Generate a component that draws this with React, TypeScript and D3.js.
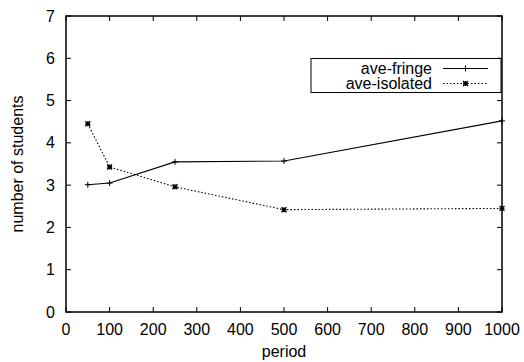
import { useEffect, useRef } from "react";
import * as d3 from "d3";

const periods = [50, 100, 250, 500, 1000];
const aveFringe = [3.01, 3.05, 3.55, 3.57, 4.52];
const aveIsolated = [4.45, 3.43, 2.96, 2.42, 2.45];
const xTicks = [0, 100, 200, 300, 400, 500, 600, 700, 800, 900, 1000];
const yTicks = [0, 1, 2, 3, 4, 5, 6, 7];
const seriesNames = ["ave-fringe", "ave-isolated"];

const App = () => {
  const svgRef = useRef(null);

  useEffect(() => {
    const w = 524;
    const h = 362;
    const m = { left: 66, right: 22, top: 16, bottom: 50 };
    const svg = d3.select(svgRef.current).attr("width", w).attr("height", h);
    svg.selectAll("*").remove();
    const font = "'Liberation Sans', Arial, Helvetica, sans-serif";
    const fs = 16;

    const x = d3.scaleLinear().domain([0, 1000]).range([m.left, w - m.right]);
    const y = d3.scaleLinear().domain([0, 7]).range([h - m.bottom, m.top]);
    const tl = 5;

    const g = svg.append("g").attr("stroke", "#000").attr("stroke-width", 1);
    // ticks on all four sides, pointing inward
    xTicks.forEach((t) => {
      g.append("line").attr("x1", x(t)).attr("x2", x(t)).attr("y1", y(0)).attr("y2", y(0) - tl);
      g.append("line").attr("x1", x(t)).attr("x2", x(t)).attr("y1", y(7)).attr("y2", y(7) + tl);
    });
    yTicks.forEach((t) => {
      g.append("line").attr("x1", x(0)).attr("x2", x(0) + tl).attr("y1", y(t)).attr("y2", y(t));
      g.append("line").attr("x1", x(1000)).attr("x2", x(1000) - tl).attr("y1", y(t)).attr("y2", y(t));
    });
    svg
      .append("rect")
      .attr("x", x(0))
      .attr("y", y(7))
      .attr("width", x(1000) - x(0))
      .attr("height", y(0) - y(7))
      .attr("fill", "none")
      .attr("stroke", "#000")
      .attr("stroke-width", 1.5);

    svg
      .selectAll(".xt")
      .data(xTicks)
      .join("text")
      .attr("x", (d) => x(d))
      .attr("y", y(0) + 23)
      .attr("text-anchor", "middle")
      .attr("font-family", font)
      .attr("font-size", fs)
      .text((d) => d);
    svg
      .selectAll(".yt")
      .data(yTicks)
      .join("text")
      .attr("x", x(0) - 11)
      .attr("y", (d) => y(d) + 5.5)
      .attr("text-anchor", "end")
      .attr("font-family", font)
      .attr("font-size", fs)
      .text((d) => d);

    svg
      .append("text")
      .attr("x", (x(0) + x(1000)) / 2)
      .attr("y", 357)
      .attr("text-anchor", "middle")
      .attr("font-family", font)
      .attr("font-size", fs)
      .text("period");
    svg
      .append("text")
      .attr("transform", `translate(23, ${(y(0) + y(7)) / 2}) rotate(-90)`)
      .attr("text-anchor", "middle")
      .attr("font-family", font)
      .attr("font-size", fs)
      .text("number of students");

    const line = d3
      .line<number>()
      .x((_, i) => x(periods[i]))
      .y((d) => y(d));

    const plus = (sel: any, cx: number, cy: number, s: number) => {
      sel.append("path").attr("d", `M${cx - s},${cy}H${cx + s}M${cx},${cy - s}V${cy + s}`).attr("stroke", "#000");
    };
    const star = (sel: any, cx: number, cy: number, s: number) => {
      sel
        .append("path")
        .attr("d", `M${cx - s},${cy - s}L${cx + s},${cy + s}M${cx - s},${cy + s}L${cx + s},${cy - s}M${cx - s},${cy}H${cx + s}M${cx},${cy - s}V${cy + s}`)
        .attr("stroke", "#000")
        .attr("stroke-width", 1.3);
    };

    svg
      .append("path")
      .datum(aveFringe)
      .attr("d", line)
      .attr("fill", "none")
      .attr("stroke", "#000")
      .attr("stroke-width", 1.1);
    svg
      .append("path")
      .datum(aveIsolated)
      .attr("d", line)
      .attr("fill", "none")
      .attr("stroke", "#000")
      .attr("stroke-width", 1.1)
      .attr("stroke-dasharray", "1.5,2");

    aveFringe.forEach((v, i) => plus(svg, x(periods[i]), y(v), 3));
    aveIsolated.forEach((v, i) => star(svg, x(periods[i]), y(v), 2.5));

    // legend
    const lg = svg.append("g");
    lg.append("rect")
      .attr("x", 311)
      .attr("y", 58.5)
      .attr("width", 190)
      .attr("height", 34)
      .attr("fill", "#fff")
      .attr("stroke", "#000")
      .attr("stroke-width", 1);
    seriesNames.forEach((name, i) => {
      const ly = 68.5 + i * 15;
      lg.append("text")
        .attr("x", 432)
        .attr("y", ly + 5)
        .attr("text-anchor", "end")
        .attr("font-family", font)
        .attr("font-size", fs)
        .text(name);
      lg.append("line")
        .attr("x1", 443)
        .attr("x2", 488)
        .attr("y1", ly)
        .attr("y2", ly)
        .attr("stroke", "#000")
        .attr("stroke-width", 1.1)
        .attr("stroke-dasharray", i === 0 ? null : "1.5,2");
      if (i === 0) plus(lg, 465.5, ly, 3);
      else star(lg, 465.5, ly, 2.5);
    });

    return () => {
      svg.selectAll("*").remove();
    };
  }, []);

  return (
    <div style={{ position: "absolute", left: 0, top: 0 }}>
      <svg ref={svgRef} style={{ display: "block" }} />
    </div>
  );
};

export default App;
